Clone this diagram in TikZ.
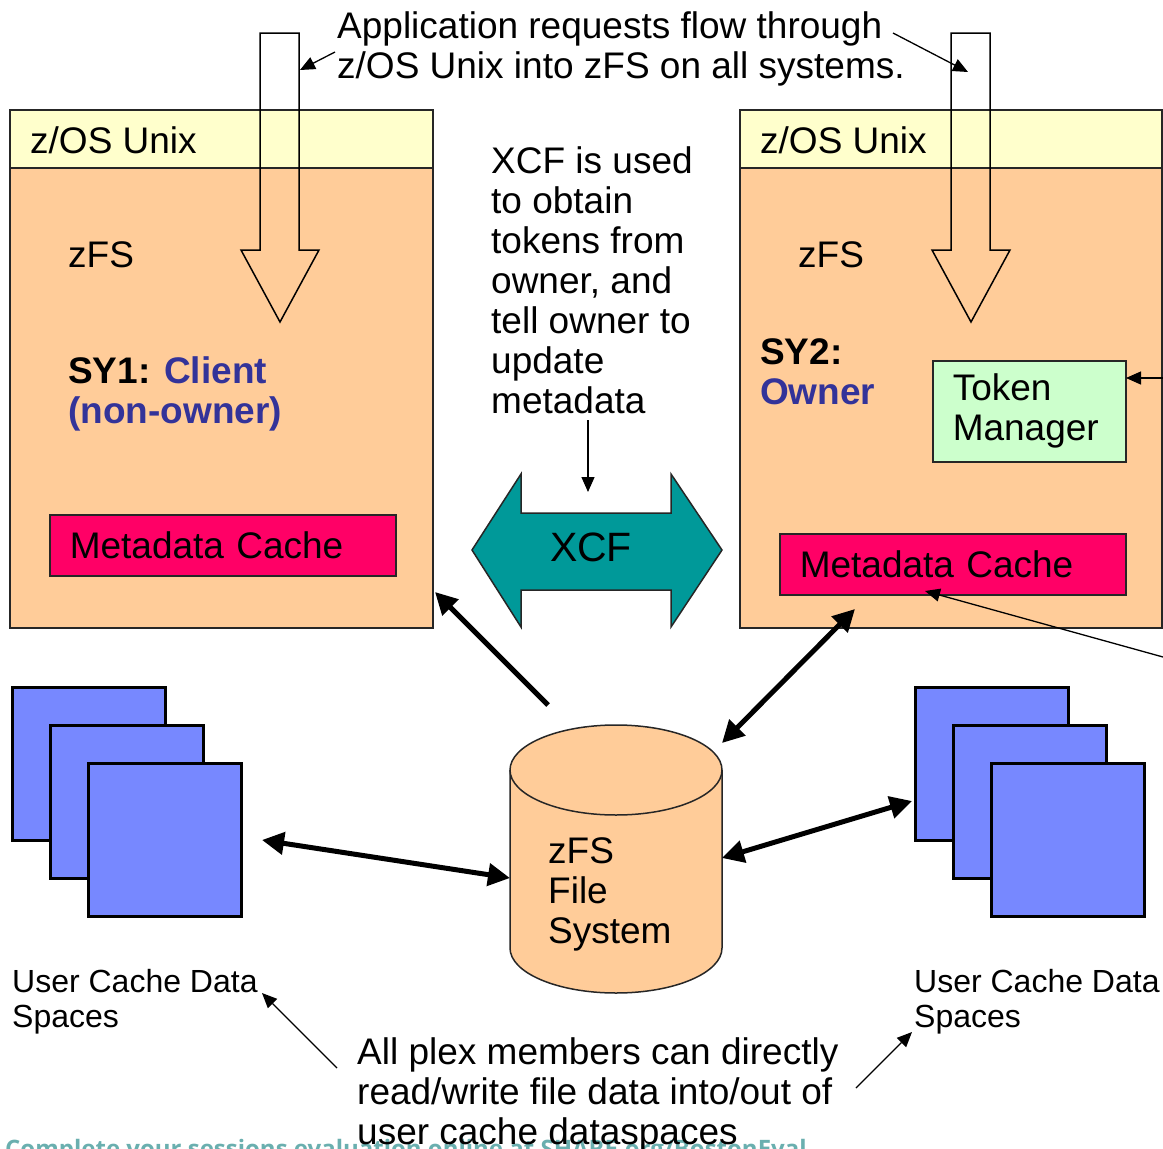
\documentclass[tikz,border=0pt]{standalone}
\usepackage{fontspec}
\setmainfont{Liberation Sans}
\newfontfamily\footfont{Open Sans}
\usetikzlibrary{arrows.meta,positioning,calc}
\definecolor{Peach}{HTML}{FFCC99}
\definecolor{Cream}{HTML}{FFFFCC}
\definecolor{Rose}{HTML}{FF0066}
\definecolor{Mint}{HTML}{CCFFCC}
\definecolor{Sea}{HTML}{009999}
\definecolor{Plate}{HTML}{7788FF}
\definecolor{Ink}{HTML}{333399}
\definecolor{Foot}{HTML}{6AAFAF}
\tikzset{
  big/.style={font=\fontsize{37}{40}\selectfont},
  bigb/.style={font=\fontsize{37}{40}\selectfont\bfseries},
  small/.style={font=\fontsize{32}{35}\selectfont},
  txt/.style={inner sep=0pt,anchor=base west,align=left},
  box/.style={draw=black!85,line width=1.5pt},
  cachebox/.style={box,fill=Rose,anchor=north west,minimum width=346pt,minimum height=61pt,
    inner xsep=20pt,inner ysep=0pt,text width=306pt,align=left,big},
  tokbox/.style={box,fill=Mint,anchor=north west,minimum width=193pt,minimum height=101pt,
    inner xsep=20pt,inner ysep=0pt,text width=153pt,align=left,big},
  plate/.style={draw,line width=2.5pt,fill=Plate,anchor=north west,minimum size=153pt,inner sep=0pt},
  thickarr/.style={line width=5pt},
  thinarr/.style={line width=1.3pt,-{Triangle[length=15pt,width=13pt]}}
}
\begin{document}
\begin{tikzpicture}[x=1pt,y=-1pt]
  \useasboundingbox (0,0) rectangle (1163,1149);
  \begin{scope}
    \clip (0,0) rectangle (1163,1149);
    \node[txt,text=Foot,font=\footfont\bfseries\fontsize{24}{28}\selectfont] (foot) at (5,1157)
      {Complete your sessions evaluation online at SHARE.org/BostonEval};
  \end{scope}
  \foreach \x/\w in {10/423,740/422} {
    \draw[box,fill=Peach] (\x,110) rectangle ++(\w,518);
    \draw[box,fill=Cream] (\x,110) rectangle ++(\w,58);
  }
  \foreach \x in {280,971} {
    \draw[line width=1.5pt] (\x-20,33) -- (\x+19,33) -- (\x+19,250) -- (\x+39,250)
      -- (\x,322) -- (\x-39,250) -- (\x-20,250) -- cycle;
  }
  \node[txt,big] (unixA) at (30,153) {z/OS Unix};
  \node[txt,big] (unixB) at (760,153) {z/OS Unix};
  \node[txt,big] (zfsA) at (68,267) {zFS};
  \node[txt,big] (zfsB) at (798,267) {zFS};
  \node[txt,bigb] (sy1) at (68,423) {SY1: \textcolor{Ink}{Client}\\\textcolor{Ink}{(non-owner)}};
  \node[txt,bigb] (sy2) at (760,404) {SY2:\\\textcolor{Ink}{Owner}};
  \node[tokbox] (tm) at (932,360) {Token\\Manager};
  \node[cachebox] (mcA) at (49,514) {Metadata Cache};
  \node[cachebox] (mcB) at (779,533) {Metadata Cache};
  \node[txt,big] (appnote) at (337,78) {Application requests flow through\\z/OS Unix into zFS on all systems.};
  \node[txt,big] (xnote) at (491,413) {XCF is used\\to obtain\\tokens from\\owner, and\\tell owner to\\update\\metadata};
  \draw[box,fill=Sea] (472,550) -- (521,474) -- (521,513) -- (671,513) -- (671,474) -- (722,550)
    -- (671,627) -- (671,590) -- (521,590) -- (521,627) -- cycle;
  \node[font=\fontsize{41}{44}\selectfont,inner sep=0pt] (xcf) at (591,547) {XCF};
  \foreach \i in {0,1,2} {
    \node[plate] (ucA\i) at (11+38*\i,686+38*\i) {};
    \node[plate] (ucB\i) at (914+38*\i,686+38*\i) {};
  }
  \draw[box,fill=Peach] (510,770) -- (510,948) arc[start angle=180,end angle=0,x radius=106,y radius=45] -- (722,770);
  \draw[box,fill=Peach] (616,770) ellipse[x radius=106,y radius=45];
  \node[txt,big] (fs) at (548,943) {zFS\\File\\System};
  \node[txt,small] (ucAlab) at (12,1027) {User Cache Data\\Spaces};
  \node[txt,small] (ucBlab) at (914,1027) {User Cache Data\\Spaces};
  \node[txt,big] (plex) at (357,1144) {All plex members can directly\\read/write file data into/out of\\user cache dataspaces};
  \coordinate (aAs) at (548,705);
  \coordinate (aA) at (435,592);
  \coordinate (cylNE) at (722,743);
  \coordinate (mcBin) at (855,609);
  \coordinate (ucAout) at (262,840);
  \coordinate (cylW) at (510,878);
  \coordinate (cylE) at (722,858);
  \coordinate (ucBin) at (912,801);
  \draw[thickarr,-{Triangle[length=22pt,width=22pt]}] (aAs) -- (aA);
  \draw[thickarr,{Triangle[length=22pt,width=22pt]}-{Triangle[length=22pt,width=22pt]}] (cylNE) -- (mcBin);
  \draw[thickarr,{Triangle[length=22pt,width=22pt]}-{Triangle[length=22pt,width=22pt]}] (ucAout) -- (cylW);
  \draw[thickarr,{Triangle[length=22pt,width=22pt]}-{Triangle[length=22pt,width=22pt]}] (cylE) -- (ucBin);
  \coordinate (appL) at (335,52);
  \coordinate (shaftA) at (300,70);
  \coordinate (appR) at (893,33);
  \coordinate (shaftB) at (968,72);
  \coordinate (xsrc) at (588,420);
  \coordinate (xtip) at (588,492);
  \coordinate (edgeT) at (1163,378);
  \coordinate (tmin) at (1126,378);
  \coordinate (edgeM) at (1163,657);
  \coordinate (mcBlow) at (925,591);
  \coordinate (plexL) at (337,1068);
  \coordinate (ucAlabin) at (262,993);
  \coordinate (plexR) at (856,1088);
  \coordinate (ucBlabin) at (912,1032);
  \draw[thinarr] (appL) -- (shaftA);
  \draw[thinarr] (appR) -- (shaftB);
  \draw[thinarr] (xsrc) -- (xtip);
  \draw[thinarr] (edgeT) -- (tmin);
  \draw[thinarr] (edgeM) -- (mcBlow);
  \draw[thinarr] (plexL) -- (ucAlabin);
  \draw[thinarr] (plexR) -- (ucBlabin);
\end{tikzpicture}
\end{document}
